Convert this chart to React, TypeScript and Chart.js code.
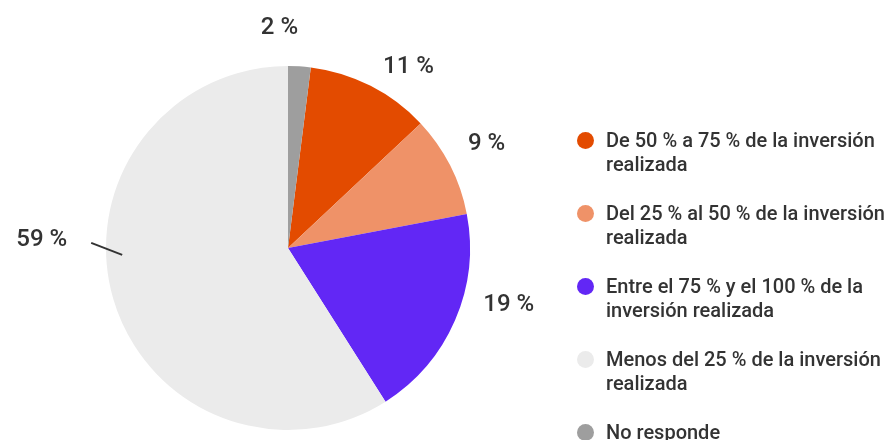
import React, { useEffect, useRef } from "react";
import { Chart, registerables } from "chart.js";

Chart.register(...registerables);

const categories = [
  "De 50 % a 75 % de la inversión\nrealizada",
  "Del 25 % al 50 % de la inversión\nrealizada",
  "Entre el 75 % y el 100 % de la\ninversión realizada",
  "Menos del 25 % de la inversión\nrealizada",
  "No responde",
];
const values = [11, 9, 19, 59, 2];
const valueLabels = ["11 %", "9 %", "19 %", "59 %", "2 %"];
const colors = ["#e34b00", "#ef9268", "#6227f5", "#ebebeb", "#9e9e9e"];

// layout tweaks for the outside labels (degrees / px beyond the outer radius)
const ANGLE_SHIFT = [0.5, -3.6, -7.6, 18.7, -5.8];
const LABEL_DIST = [24, 27, 21, 39, 40];
const LEADER = [false, false, false, true, false];

const labelPlugin = {
  id: "outsideLabels",
  afterDatasetsDraw(chart: any) {
    const ctx = chart.ctx;
    const meta = chart.getDatasetMeta(0);
    ctx.save();
    ctx.font = "500 24px Roboto";
    ctx.fillStyle = "#333333";
    ctx.textBaseline = "middle";
    meta.data.forEach((arc: any, i: number) => {
      const p = arc.getProps(["x", "y", "startAngle", "endAngle", "outerRadius"], true);
      const mid = (p.startAngle + p.endAngle) / 2 + (ANGLE_SHIFT[i] * Math.PI) / 180;
      const c = Math.cos(mid);
      const s = Math.sin(mid);
      let align: CanvasTextAlign = "center";
      if (c > 0.3) align = "left";
      else if (c < -0.3) align = "right";
      const r = p.outerRadius + LABEL_DIST[i];
      const x = p.x + c * r;
      const y = p.y + s * r;
      ctx.textAlign = align;
      ctx.fillText(valueLabels[i], x, y + 2);
      if (LEADER[i]) {
        ctx.strokeStyle = "#333333";
        ctx.lineWidth = 2;
        ctx.beginPath();
        ctx.moveTo(x + 24, y + 4.5);
        ctx.lineTo(x + 55, y + 16.5);
        ctx.stroke();
      }
    });
    ctx.restore();
  },
};

export default function App() {
  const ref = useRef<HTMLCanvasElement>(null);
  useEffect(() => {
    const total = values.reduce((a, b) => a + b, 0);
    const chart = new Chart(ref.current as HTMLCanvasElement, {
      type: "pie",
      data: {
        labels: categories.map((c) => c.replace("\n", " ")),
        datasets: [
          {
            data: values,
            backgroundColor: colors,
            borderWidth: 0,
          },
        ],
      },
      options: {
        animation: false,
        responsive: false,
        maintainAspectRatio: false,
        rotation: (values[values.length - 1] / total) * 360,
        layout: { padding: { left: 106, right: 421, top: 66, bottom: 10 } },
        plugins: {
          legend: { display: false },
          tooltip: { enabled: false },
        },
      },
      plugins: [labelPlugin],
    } as any);
    return () => chart.destroy();
  }, []);

  return (
    <div
      style={{
        position: "fixed",
        left: 0,
        top: 0,
        width: 891,
        height: 440,
        background: "#ffffff",
        fontFamily: "Roboto, sans-serif",
        overflow: "hidden",
      }}
    >
      <canvas
        ref={ref}
        width={891}
        height={440}
        style={{ position: "absolute", left: 0, top: 0, width: 891, height: 440 }}
      />
      <div style={{ position: "absolute", left: 577, top: 128 }}>
        {categories.map((c, i) => (
          <div
            key={i}
            style={{
              display: "flex",
              alignItems: "flex-start",
              height: 48,
              marginBottom: 25,
            }}
          >
            <span
              style={{
                width: 17,
                height: 17,
                borderRadius: "50%",
                background: colors[i],
                marginTop: 4,
                marginRight: 12,
                flex: "0 0 auto",
              }}
            />
            <span
              style={{
                whiteSpace: "pre-line",
                fontSize: 20,
                fontWeight: 500,
                lineHeight: "24px",
                color: "#333333",
              }}
            >
              {c}
            </span>
          </div>
        ))}
      </div>
    </div>
  );
}
